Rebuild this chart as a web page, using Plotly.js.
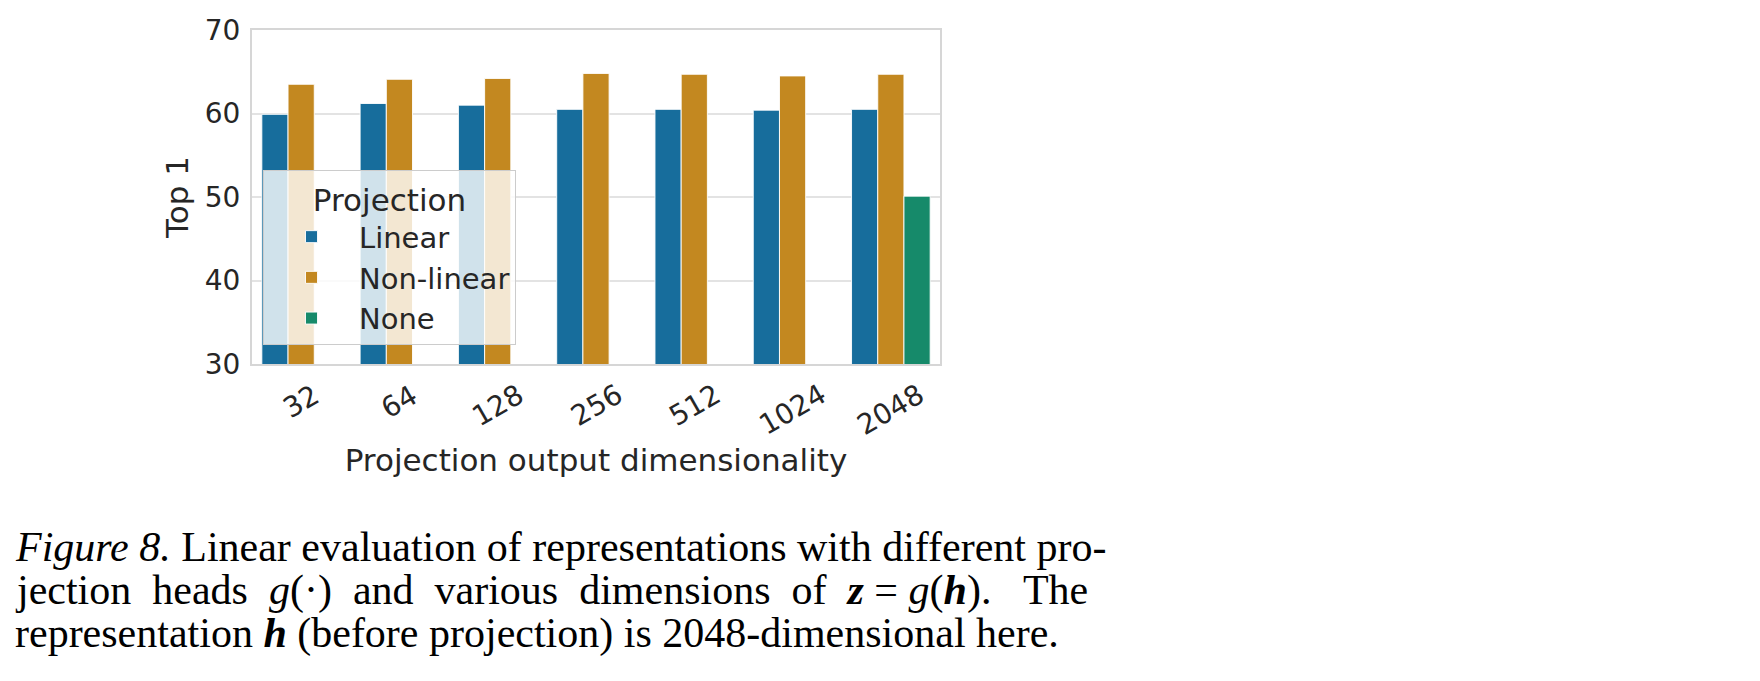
<!DOCTYPE html>
<html><head><meta charset="utf-8">
<script src="https://cdn.plot.ly/plotly-3.0.1.min.js"></script>
<style>html,body{margin:0;padding:0;background:#fff;}</style>
</head><body>
<div id="chart" style="width:1760px;height:681px;"></div>
<script>
// ---- data ----
const categories = ['32', '64', '128', '256', '512', '1024', '2048'];
const linearTop1 = [59.9, 61.2, 61.0, 60.5, 60.5, 60.4, 60.5];
const nonLinearTop1 = [63.5, 64.1, 64.2, 64.8, 64.7, 64.5, 64.7];
const noneTop1 = [null, null, null, null, null, null, 50.1];
const seriesNames = ['Linear', 'Non-linear', 'None'];
const yTickValues = [30, 40, 50, 60, 70];
const captionLines = [
  '<i>Figure 8.</i> Linear evaluation of representations with different pro-',
  ['jection', 'heads', '<i>g</i>(·)', 'and', 'various', 'dimensions', 'of', '<b><i>z</i></b> = <i>g</i>(<b><i>h</i></b>).', '\u00a0The'],
  'representation <b><i>h</i></b> (before projection) is 2048-dimensional here.'
];

// ---- style ----
const colors = ['#176d9c', '#c38820', '#168a6a'];
const sans = 'DejaVu Sans, sans-serif';
const textColor = '#262626';
const plotL = 252, plotR = 940, plotT = 30, plotB = 364;
const W = 1760, H = 681;
const pxX = x => (x - plotL) / (plotR - plotL);
const pxY = y => (plotB - y) / (plotB - plotT);

const seriesValues = [linearTop1, nonLinearTop1, noneTop1];
const traces = seriesNames.map((name, i) => ({
  type: 'bar',
  name: name,
  x: categories,
  y: seriesValues[i],
  marker: {color: colors[i], line: {color: 'rgba(255,255,255,0.9)', width: 1}},
  hoverinfo: 'x+y+name'
}));

// x tick labels: rotated 30deg and centred under each category (matplotlib style);
// positioned by category index on the category axis
const tickAnnotations = categories.map((c, i) => ({
  text: c,
  xref: 'x', yref: 'paper',
  x: i, y: pxY(375),
  xanchor: 'center', yanchor: 'top',
  textangle: -30,
  showarrow: false,
  font: {family: sans, size: 28, color: textColor}
}));

const captionText = captionLines.map(l => Array.isArray(l) ? l.join(' \u00a0') : l);
const captionY = [547, 590.5, 633];
const captionAnnotations = captionText.map((t, i) => ({
  text: t,
  xref: 'paper', yref: 'paper',
  x: pxX(13), y: pxY(captionY[i]),
  xanchor: 'left', yanchor: 'middle',
  showarrow: false,
  font: {family: 'Liberation Serif, Times New Roman, serif', size: 42, color: '#000'}
}));

const layout = {
  width: W, height: H,
  margin: {l: plotL, r: W - plotR, t: plotT, b: H - plotB, pad: 0},
  paper_bgcolor: '#fff',
  plot_bgcolor: '#fff',
  font: {family: sans, color: textColor, size: 28},
  barmode: 'group',
  bargap: 0.2,
  bargroupgap: 0,
  showlegend: true,
  legend: {
    x: pxX(263), y: pxY(170), xanchor: 'left', yanchor: 'top',
    bgcolor: 'rgba(255,255,255,0.8)',
    bordercolor: '#cccccc', borderwidth: 1,
    font: {family: sans, size: 29, color: textColor},
    title: {text: 'Projection', side: 'top center', font: {family: sans, size: 31, color: textColor}},
    itemwidth: 85,
    traceorder: 'normal'
  },
  xaxis: {
    type: 'category',
    categoryorder: 'array',
    categoryarray: categories,
    range: [-0.5, categories.length - 0.5],
    showticklabels: false,
    showgrid: false,
    zeroline: false,
    showline: true, linecolor: '#d6d6d6', linewidth: 2, mirror: true,
    ticks: '',
    title: {text: 'Projection output dimensionality', font: {family: sans, size: 31, color: textColor}, standoff: 84},
    automargin: false
  },
  yaxis: {
    range: [30, 70],
    tickvals: yTickValues,
    ticktext: yTickValues.map(String),
    showgrid: true, gridcolor: '#e3e3e3', gridwidth: 2,
    zeroline: false,
    showline: true, linecolor: '#d6d6d6', linewidth: 2, mirror: true,
    ticks: '',
    ticklabelstandoff: 4,
    tickfont: {family: sans, size: 28, color: textColor},
    title: {text: 'Top 1', font: {family: sans, size: 31, color: textColor}, standoff: 7},
    automargin: false
  },
  annotations: tickAnnotations.concat(captionAnnotations)
};

Plotly.newPlot('chart', traces, layout, {displayModeBar: false, responsive: false});
</script>
</body></html>
